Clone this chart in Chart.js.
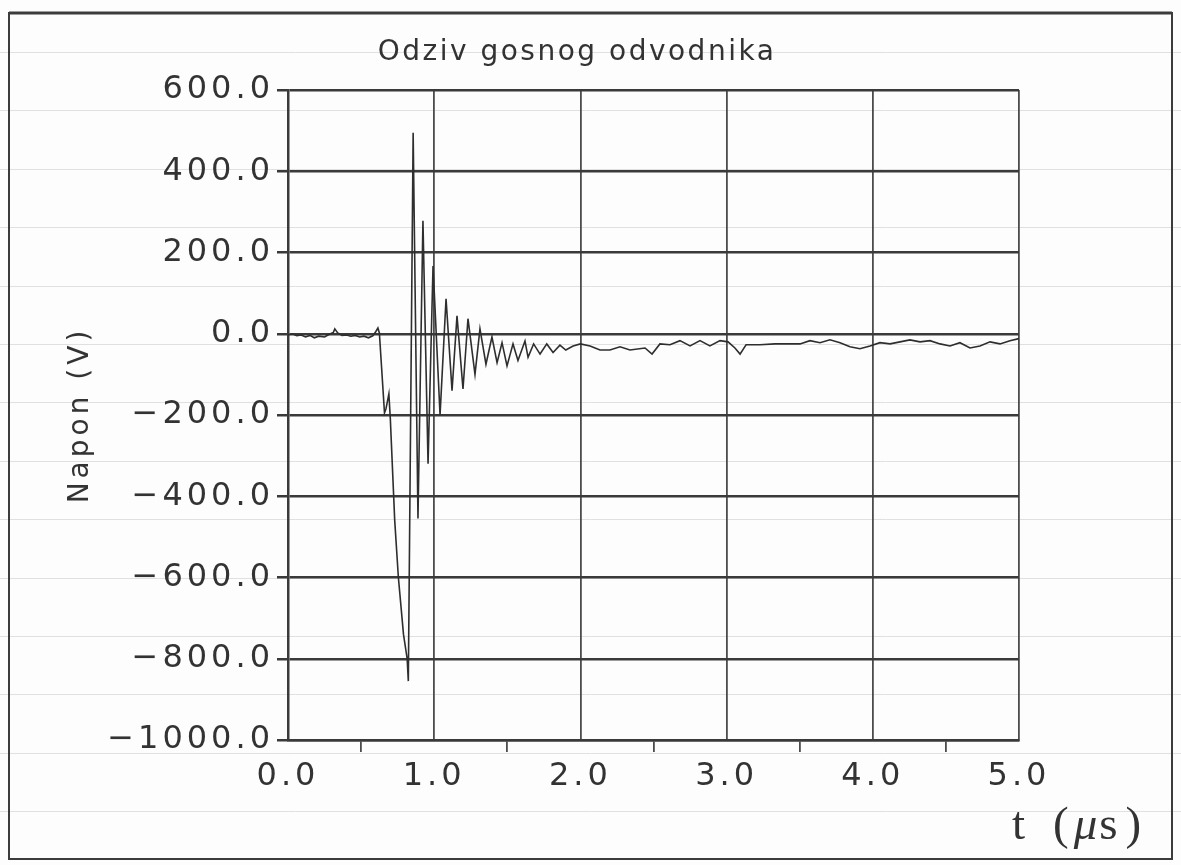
<!DOCTYPE html>
<html>
<head>
<meta charset="utf-8">
<title>Odziv gosnog odvodnika</title>
<script src="https://cdn.jsdelivr.net/npm/chart.js@4.4.1/dist/chart.umd.min.js"></script>
<style>
  html, body { margin: 0; padding: 0; background: #fdfdfd; }
  #wrap { position: relative; width: 1181px; height: 865px; }
</style>
</head>
<body>
<div id="wrap"><canvas id="chart" width="1181" height="865"></canvas></div>
<script>
// Odziv gosnog odvodnika - napon u vremenu

// Vrijeme (us)
const timeUs = [
  0.00, 0.03, 0.06, 0.09, 0.12, 0.15, 0.18, 0.21, 0.25, 0.28,
  0.31, 0.32, 0.34, 0.37, 0.40, 0.43, 0.46, 0.49, 0.52, 0.55,
  0.58, 0.60, 0.615, 0.625, 0.66, 0.67, 0.69, 0.70, 0.73, 0.755,
  0.79, 0.815, 0.823, 0.856, 0.889, 0.923, 0.958, 0.992, 1.04, 1.081,
  1.122, 1.156, 1.197, 1.231, 1.279, 1.313, 1.354, 1.395, 1.43, 1.464,
  1.498, 1.539, 1.573, 1.621, 1.642, 1.68, 1.724, 1.77, 1.813, 1.86,
  1.90, 1.95, 2.00, 2.066, 2.134, 2.202, 2.271, 2.339, 2.442, 2.49,
  2.544, 2.613, 2.681, 2.75, 2.818, 2.886, 2.955, 3.01, 3.057, 3.092,
  3.133, 3.228, 3.331, 3.434, 3.502, 3.57, 3.639, 3.707, 3.776, 3.844,
  3.912, 3.981, 4.049, 4.118, 4.186, 4.254, 4.323, 4.391, 4.46, 4.528,
  4.596, 4.665, 4.733, 4.802, 4.87, 4.938, 5.00
];

// Napon (V)
const voltage = [
  -3, 0, -5, -3, -8, -4, -10, -6, -8, -2,
  3, 12, 2, -4, -3, -6, -4, -8, -6, -10,
  -5, 5, 14, 2, -195, -185, -148, -210, -460, -600,
  -740, -800, -855, 495, -455, 278, -320, 167, -200, 86,
  -140, 44, -136, 37, -100, 12, -75, -8, -71, -22,
  -79, -25, -66, -18, -58, -25, -50, -25, -46, -28,
  -40, -30, -25, -30, -40, -40, -32, -40, -35, -50,
  -25, -27, -17, -30, -17, -30, -17, -20, -35, -50,
  -27, -27, -25, -25, -25, -17, -22, -15, -22, -32,
  -37, -30, -22, -25, -20, -15, -20, -17, -25, -30,
  -22, -35, -30, -20, -25, -17, -12
];

const yTicks = { min: -1000, max: 600, step: 200 };
const xTicks = { min: 0, max: 5, step: 0.5 };

const FONT = '"DejaVu Sans", "Noto Sans", sans-serif';
const INK = '#333333';
const GRID_H = '#3a3a3a';
const GRID_V = '#4c4c4c';
const SPACING = '4px';

function fmtNum(v) {
  return (v < 0 ? '\u2212' : '') + Math.abs(v).toFixed(1);
}

// scanned paper look, frame, title and x-axis label
const paperPlugin = {
  id: 'paper',
  beforeUpdate(chart) {
    chart.ctx.letterSpacing = SPACING;
  },
  beforeDraw(chart) {
    const ctx = chart.ctx;
    const w = chart.width, h = chart.height;
    ctx.save();
    ctx.fillStyle = '#fdfdfd';
    ctx.fillRect(0, 0, w, h);
    ctx.strokeStyle = '#e0e0e0';
    ctx.lineWidth = 1;
    for (let y = 52; y < h; y += 58.4) {
      ctx.beginPath();
      ctx.moveTo(0, Math.round(y) + 0.5);
      ctx.lineTo(w, Math.round(y) + 0.5);
      ctx.stroke();
    }
    ctx.strokeStyle = '#3c3c3c';
    ctx.lineWidth = 2;
    ctx.strokeRect(9, 13, 1163, 846);
    ctx.lineWidth = 3;
    ctx.beginPath();
    ctx.moveTo(9, 13);
    ctx.lineTo(1172, 13);
    ctx.stroke();
    ctx.restore();
    ctx.letterSpacing = SPACING;
  },
  afterDraw(chart) {
    const ctx = chart.ctx;
    const area = chart.chartArea;
    ctx.save();
    ctx.fillStyle = INK;
    ctx.letterSpacing = '2.5px';
    ctx.font = '28px ' + FONT;
    ctx.textAlign = 'center';
    ctx.textBaseline = 'middle';
    ctx.fillText('Odziv gosnog odvodnika', 577, 53);

    // t (μs) with italic mu
    ctx.letterSpacing = '0px';
    ctx.textAlign = 'left';
    ctx.textBaseline = 'alphabetic';
    const base = area.bottom + 99;
    let x = area.right - 7;
    const parts = [
      ['t', 'normal', 28],
      ['(', 'normal', 5],
      ['\u03bc', 'italic', 2],
      ['s', 'normal', 8],
      [')', 'normal', 0]
    ];
    parts.forEach(p => {
      ctx.font = p[1] + ' 47px "Liberation Serif", "DejaVu Serif", serif';
      ctx.fillText(p[0], x, base);
      x += ctx.measureText(p[0]).width + p[2];
    });
    ctx.restore();
  }
};

const points = timeUs.map((t, i) => ({ x: t, y: voltage[i] }));

new Chart(document.getElementById('chart'), {
  type: 'line',
  data: {
    datasets: [{
      label: 'Napon',
      data: points,
      borderColor: '#2e2e2e',
      borderWidth: 1.6,
      pointRadius: 0,
      tension: 0,
      fill: false
    }]
  },
  options: {
    responsive: false,
    animation: false,
    devicePixelRatio: 1,
    layout: { padding: { left: 64, right: 162, top: 90, bottom: 0 } },
    plugins: {
      legend: { display: false },
      title: { display: false },
      tooltip: { enabled: false }
    },
    scales: {
      x: {
        type: 'linear',
        min: xTicks.min,
        max: xTicks.max,
        afterFit(scale) { scale.height = 125; },
        ticks: {
          stepSize: xTicks.step,
          color: INK,
          font: { family: FONT, size: 32 },
          padding: 5,
          maxRotation: 0,
          autoSkip: false,
          callback: v => (Math.abs(v % 1) < 1e-9 ? v.toFixed(1) : '')
        },
        grid: {
          color: c => (c.tick && Math.abs(c.tick.value % 1) < 1e-9 ? GRID_V : 'rgba(0,0,0,0)'),
          tickColor: c => (c.tick && Math.abs(c.tick.value % 1) < 1e-9 ? 'rgba(0,0,0,0)' : GRID_V),
          lineWidth: 1.8,
          tickLength: 12,
          drawTicks: true
        },
        border: { display: true, color: GRID_H, width: 2.5 }
      },
      y: {
        type: 'linear',
        min: yTicks.min,
        max: yTicks.max,
        afterFit(scale) { scale.width = 288 - 64; },
        ticks: {
          stepSize: yTicks.step,
          color: INK,
          font: { family: FONT, size: 32 },
          padding: 3,
          callback: v => fmtNum(v)
        },
        grid: {
          color: GRID_H,
          lineWidth: 2.5,
          tickLength: 11,
          drawTicks: true
        },
        border: { display: true, color: GRID_H, width: 2.5 },
        title: {
          display: true,
          text: 'Napon (V)',
          color: INK,
          font: { family: FONT, size: 28 },
          padding: 0
        }
      }
    }
  },
  plugins: [paperPlugin]
});
</script>
</body>
</html>
